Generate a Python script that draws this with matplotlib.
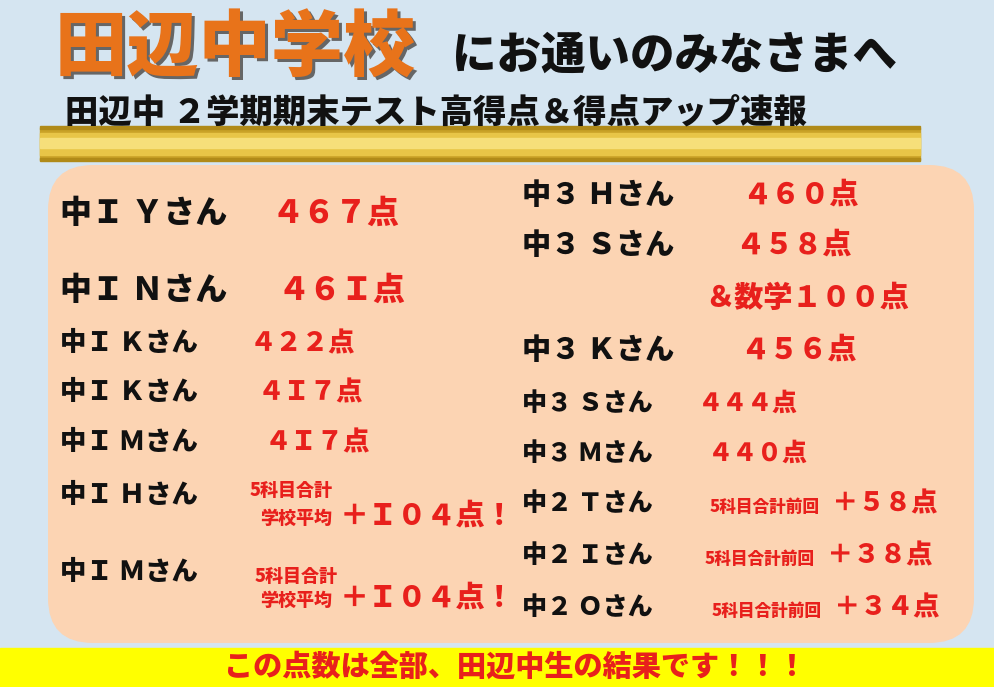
import matplotlib
matplotlib.use("Agg")
import matplotlib.pyplot as plt
from matplotlib.patches import FancyBboxPatch, Rectangle

plt.rcParams['font.family'] = ['Noto Sans CJK JP', 'DejaVu Sans']

title_main = "田辺中学校"
title_rest = "にお通いのみなさまへ"
subtitle = "田辺中 ２学期期末テスト高得点＆得点アップ速報"
footer = "この点数は全部、田辺中生の結果です！！！"

left_names = ["中Ｉ Ｙさん", "中Ｉ Ｎさん", "中Ｉ Ｋさん", "中Ｉ Ｋさん", "中Ｉ Ｍさん", "中Ｉ Ｈさん", "中Ｉ Ｍさん"]
left_scores = ["４６７点", "４６Ｉ点", "４２２点", "４Ｉ７点", "４Ｉ７点", "＋Ｉ０４点！", "＋Ｉ０４点！"]
right_names = ["中３ Ｈさん", "中３ Ｓさん", "中３ Ｋさん", "中３ Ｓさん", "中３ Ｍさん", "中２ Ｔさん", "中２ Ｉさん", "中２ Ｏさん"]
right_scores = ["４６０点", "４５８点", "４５６点", "４４４点", "４４０点", "＋５８点", "＋３８点", "＋３４点"]
extra_note = "＆数学１００点"

fig = plt.figure(figsize=(9.94, 6.87), dpi=100)
ax = fig.add_axes([0, 0, 1, 1])
ax.set_xlim(0, 994); ax.set_ylim(687, 0); ax.axis('off')
ax.add_patch(Rectangle((0, 0), 994, 687, color='#d5e5f1', zorder=0))

for y0, h, c in [(128, 32, '#c9a227'), (133, 22, '#e8c547'), (138, 10, '#f6df7a'), (126, 3, '#b08a18'), (158, 3, '#b08a18')]:
    ax.add_patch(Rectangle((40, y0), 880, h, color=c, zorder=1))

ax.add_patch(FancyBboxPatch((48, 165), 926, 478, boxstyle="round,pad=0,rounding_size=45",
                            fc='#fcd4b3', ec='none', zorder=2))
ax.add_patch(Rectangle((0, 648), 994, 39, color='#ffff00', zorder=2))

red = '#e8201c'
W = 'heavy'
ax.text(58, 53, title_main, fontsize=52, fontweight=W, color='#666666', va='center', zorder=3)
ax.text(55, 50, title_main, fontsize=52, fontweight=W, color='#e8731a', va='center', zorder=4)
ax.text(452, 55, title_rest, fontsize=32, fontweight=W, color='#111111', va='center', zorder=4)
ax.text(65, 112, subtitle, fontsize=24, fontweight=W, color='#111111', va='center', zorder=4)
ax.text(515, 667, footer, fontsize=21, fontweight=W, color=red, va='center', ha='center', zorder=4)

ly = [213, 290, 343, 392, 442, 495, 572]
lsz = [23, 23, 19, 19, 19, 19, 19]
lsx = [272, 278, 250, 258, 265, 0, 0]
for i in range(len(left_names)):
    ax.text(60, ly[i], left_names[i], fontsize=lsz[i], fontweight=W, color='#111', va='center', zorder=4)
    if i < 5:
        ax.text(lsx[i], ly[i], left_scores[i], fontsize=lsz[i], fontweight=W, color=red, va='center', zorder=4)
    else:
        y1 = ly[i] - 5 if i == 5 else ly[i] + 4
        y2 = ly[i] + 23 if i == 5 else ly[i] + 28
        ax.text(250 if i == 5 else 255, y1, "5科目合計", fontsize=13, fontweight=W, color=red, va='center', zorder=4)
        ax.text(260, y2, "学校平均", fontsize=13, fontweight=W, color=red, va='center', zorder=4)
        ax.text(340, y2 - 2, left_scores[i], fontsize=21, fontweight=W, color=red, va='center', zorder=4)

ry = [195, 245, 350, 403, 453, 503, 555, 607]
rsz = [21, 21, 21, 18, 18, 18, 18, 18]
rsx = [742, 735, 740, 698, 708, 710, 705, 712]
for i in range(len(right_names)):
    ax.text(522, ry[i], right_names[i], fontsize=rsz[i], fontweight=W, color='#111', va='center', zorder=4)
    if i < 5:
        ax.text(rsx[i], ry[i], right_scores[i], fontsize=rsz[i], fontweight=W, color=red, va='center', zorder=4)
    else:
        ax.text(rsx[i], ry[i] + 4, "5科目合計前回", fontsize=12, fontweight=W, color=red, va='center', zorder=4)
        ax.text(rsx[i] + 122, ry[i], right_scores[i], fontsize=19, fontweight=W, color=red, va='center', zorder=4)
ax.text(705, 298, extra_note, fontsize=21, fontweight=W, color=red, va='center', zorder=4)

fig.savefig("out.png", dpi=100)
